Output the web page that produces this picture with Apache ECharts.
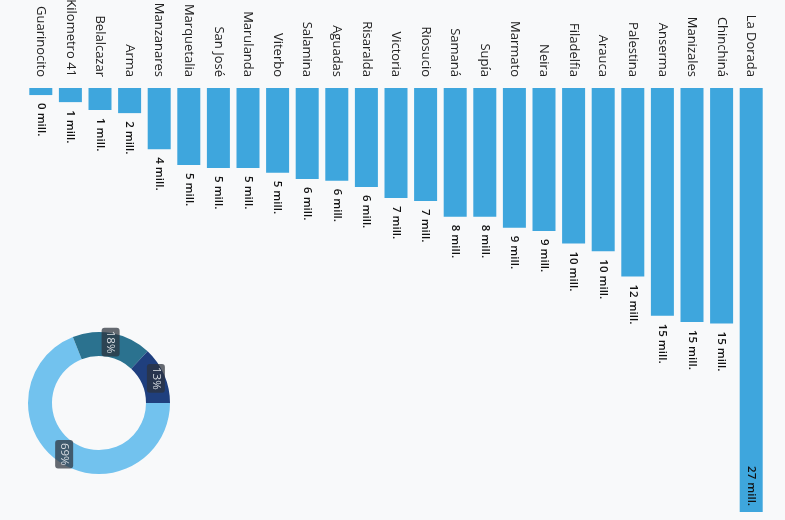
<!DOCTYPE html>
<html>
<head>
<meta charset="utf-8">
<script src="https://cdn.jsdelivr.net/npm/echarts@6/dist/echarts.min.js"></script>
<style>
  html, body { margin: 0; padding: 0; background: #f8f9fa; }
  #chart { width: 785px; height: 520px; }
</style>
</head>
<body>
<div id="chart"></div>
<script>
const categories = ['La Dorada','Chinchiná','Manizales','Anserma','Palestina','Arauca','Filadelfia','Neira','Marmato','Supía','Samaná','Riosucio','Victoria','Risaralda','Aguadas','Salamina','Viterbo','Marulanda','San José','Marquetalia','Manzanares','Arma','Belalcazar','Kilometro 41','Guarinocito'];
const valuesMill = [27.0, 15.0, 14.9, 14.5, 12.0, 10.4, 9.9, 9.1, 8.9, 8.2, 8.2, 7.2, 7.0, 6.3, 5.9, 5.8, 5.4, 5.1, 5.1, 4.9, 3.9, 1.6, 1.4, 0.9, 0.45];
const donutNames = ['A', 'B', 'C'];
const donutValues = [69, 18, 13];

const chart = echarts.init(document.getElementById('chart'));
const fontFamily = '"Open Sans", "Noto Sans", sans-serif';
const maxVal = Math.max(...valuesMill);

const barData = valuesMill.map(v => {
  if (v === maxVal) {
    return { value: v, label: { position: 'insideBottom', align: 'right', distance: 6 } };
  }
  return v;
});

chart.setOption({
  backgroundColor: '#f8f9fa',
  animation: false,
  grid: { left: 26, right: 19, top: 88, bottom: 8, containLabel: false, outerBoundsMode: 'none' },
  xAxis: {
    type: 'category',
    data: categories,
    position: 'top',
    inverse: true,
    axisLine: { show: false },
    axisTick: { show: false },
    axisLabel: {
      rotate: -90,
      margin: 11,
      color: '#222',
      fontSize: 13,
      fontFamily: fontFamily,
      interval: 0
    }
  },
  yAxis: {
    type: 'value',
    min: 0,
    max: maxVal,
    inverse: true,
    show: false,
    splitLine: { show: false }
  },
  series: [
    {
      type: 'bar',
      data: barData,
      barWidth: 23,
      itemStyle: { color: '#3ea6dd' },
      label: {
        show: true,
        position: 'bottom',
        distance: 8,
        rotate: -90,
        align: 'left',
        verticalAlign: 'middle',
        color: '#111',
        fontSize: 11.5,
        fontWeight: 600,
        fontFamily: fontFamily,
        formatter: p => Math.round(p.value) + ' mill.'
      }
    },
    {
      type: 'pie',
      center: [99, 403],
      radius: [47, 71],
      startAngle: 0,
      clockwise: true,
      data: donutNames.map((n, i) => ({ name: n, value: donutValues[i] })),
      color: ['#72c2ee', '#2b728f', '#1f3f7e'],
      label: {
        show: true,
        position: 'inside',
        rotate: -90,
        formatter: p => Math.round(p.percent) + '%',
        color: '#d8dde2',
        fontSize: 11.5,
        fontFamily: fontFamily,
        backgroundColor: 'rgba(45,50,60,0.72)',
        padding: [3, 3],
        borderRadius: 3
      },
      labelLine: { show: false }
    }
  ]
});
</script>
</body>
</html>
